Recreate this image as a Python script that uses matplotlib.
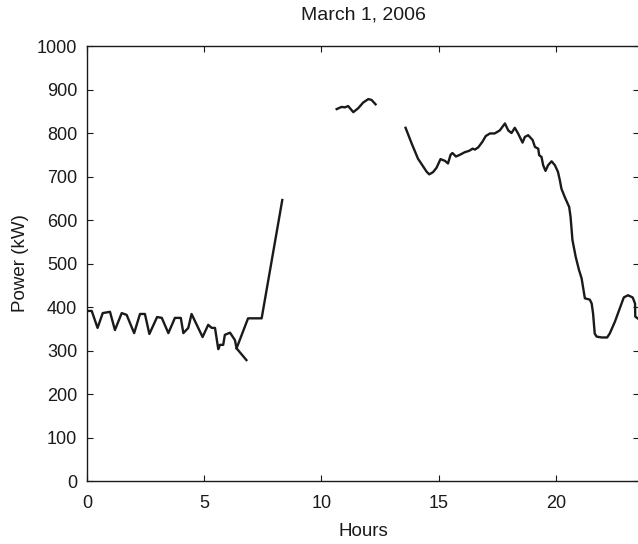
import matplotlib
matplotlib.use("Agg")
import matplotlib.pyplot as plt
import numpy as np

plt.rcParams['font.family'] = ['Liberation Sans', 'DejaVu Sans']

# power readings (hours, kW), split where the record has gaps
seg1_h = [0.0, 0.20, 0.45, 0.67, 0.98, 1.19, 1.48, 1.69, 2.01, 2.26, 2.47, 2.66,
          2.99, 3.19, 3.47, 3.75, 4.00, 4.11, 4.32, 4.46, 4.93, 5.17, 5.32, 5.46,
          5.60, 5.67, 5.81, 5.88, 6.10, 6.31, 6.38, 6.80]
seg1_kw = [391, 391, 352, 386, 389, 347, 386, 382, 340, 384, 384, 338,
           377, 375, 340, 375, 375, 340, 352, 384, 331, 359, 352, 352,
           303, 313, 313, 336, 341, 324, 305, 278]

seg2_h = [6.38, 6.87, 7.45, 8.33]
seg2_kw = [305, 374, 374, 646]

seg3_h = [10.65, 10.86, 11.00, 11.14, 11.36, 11.57, 11.78, 12.00, 12.14, 12.31]
seg3_kw = [855, 860, 859, 862, 848, 857, 870, 878, 876, 866]

seg4_h = [13.59, 13.85, 14.12, 14.49, 14.60, 14.76, 14.91, 15.08, 15.27, 15.40,
          15.51, 15.59, 15.74, 15.91, 16.12, 16.30, 16.45, 16.55, 16.69, 16.87,
          17.01, 17.19, 17.39, 17.61, 17.83, 17.97, 18.11, 18.25, 18.39, 18.58,
          18.68, 18.82, 19.01, 19.11, 19.25, 19.29, 19.39, 19.46, 19.56, 19.67,
          19.82, 19.96, 20.09, 20.17, 20.24, 20.38, 20.57, 20.63, 20.71, 20.85,
          20.99, 21.10, 21.17, 21.24, 21.45, 21.53, 21.59, 21.66, 21.74, 21.95,
          22.19, 22.30, 22.52, 22.73, 22.90, 23.08, 23.28, 23.38, 23.39, 23.49]
seg4_kw = [812, 776, 741, 711, 705, 710, 720, 740, 736, 730,
           750, 754, 746, 750, 756, 759, 764, 762, 767, 780,
           793, 799, 799, 806, 822, 806, 800, 812, 799, 778,
           791, 795, 784, 768, 764, 749, 745, 726, 713, 726,
           735, 726, 711, 692, 672, 653, 630, 607, 554, 515,
           485, 466, 443, 420, 417, 408, 385, 339, 332, 330,
           330, 339, 366, 397, 422, 427, 422, 408, 378, 374]

fig = plt.figure(figsize=(6.38, 5.44), dpi=100)
ax = fig.add_axes([0.1364, 0.1158, 0.8652, 0.7996])

for h, kw in [(seg1_h, seg1_kw), (seg2_h, seg2_kw), (seg3_h, seg3_kw), (seg4_h, seg4_kw)]:
    ax.plot(h, kw, color='#1a1a1a', lw=1.7, solid_joinstyle='round')

ax.set_xlim(0, 23.55)
ax.set_ylim(0, 1000)
ax.set_xticks([0, 5, 10, 15, 20])
ax.set_yticks(np.arange(0, 1001, 100))
ax.tick_params(direction='in', top=True, right=True, length=4, width=0.8,
               labelsize=13, colors='#1a1a1a')
ax.tick_params(axis='x', pad=10)
ax.tick_params(axis='y', pad=7)
for s in ax.spines.values():
    s.set_linewidth(1.0)
    s.set_color('#1a1a1a')

ax.set_title('March 1, 2006', fontsize=14, pad=19, color='#1a1a1a')
ax.set_xlabel('Hours', fontsize=13.5, color='#1a1a1a', labelpad=8)
ax.set_ylabel('Power (kW)', fontsize=13.5, color='#1a1a1a', labelpad=6)

fig.savefig('out.png', dpi=100)
